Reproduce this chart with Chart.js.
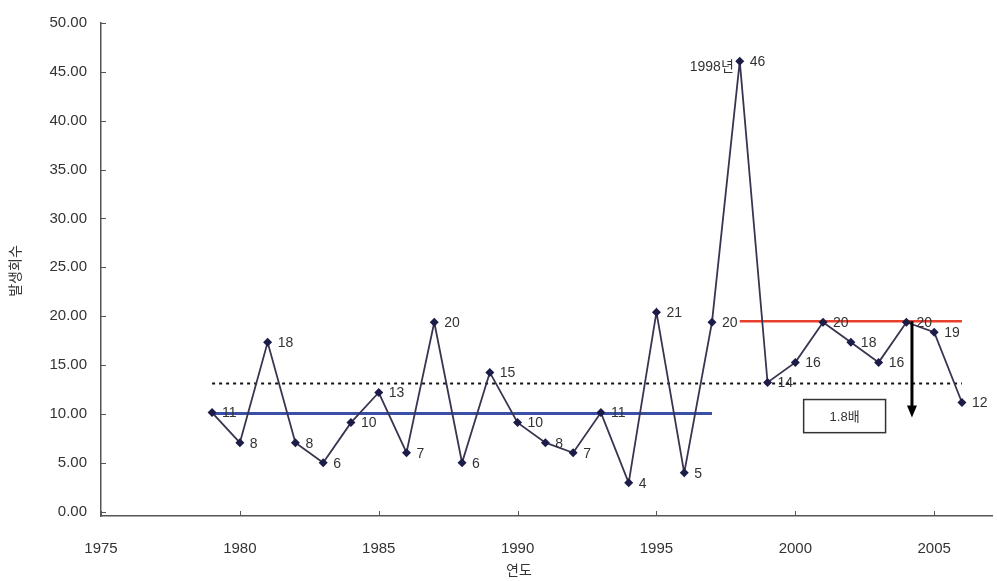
<!DOCTYPE html>
<html>
<head>
<meta charset="utf-8">
<script src="https://cdn.jsdelivr.net/npm/chart.js@4"></script>
<style>
  html, body { margin: 0; padding: 0; background: #fff; }
  #wrap { width: 997px; height: 581px; }
</style>
</head>
<body>
<div id="wrap"><canvas id="chart" width="997" height="581"></canvas></div>
<script>
// --- data ---
const years = [1979, 1980, 1981, 1982, 1983, 1984, 1985, 1986, 1987, 1988, 1989, 1990, 1991, 1992,
               1993, 1994, 1995, 1996, 1997, 1998, 1999, 2000, 2001, 2002, 2003, 2004, 2005, 2006];
const counts = [11, 8, 18, 8, 6, 10, 13, 7, 20, 6, 15, 10, 8, 7,
                11, 4, 21, 5, 20, 46, 14, 16, 20, 18, 16, 20, 19, 12];
const xTicks = [1975, 1980, 1985, 1990, 1995, 2000, 2005];
const yTicks = [0, 5, 10, 15, 20, 25, 30, 35, 40, 45, 50];

// reference lines: mean before / after 1998 and overall mean
const periodBefore = [1979, 1997];
const periodAfter = [1998, 2006];
const periodAll = [1979, 2006];
const meanBefore = 10.9;
const meanAfter = 20.1;
const meanAll = 13.9;

const peakYear = 1998;
const peakNote = '1998년';
const ratioText = '1.8배';

const FONT = "'Liberation Sans', 'Noto Sans CJK KR', sans-serif";
const TEXT = '#333';
const AXIS = '#555';

const hline = (range, v) => range.map(x => ({ x: x, y: v }));

/* annotation + label layer */
const decor = {
    id: 'decor',
    afterDatasetsDraw(chart) {
        const ctx = chart.ctx;
        const xs = chart.scales.x, ys = chart.scales.y, yd = chart.scales.yData;
        const area = chart.chartArea;
        ctx.save();

        // inward tick marks
        ctx.strokeStyle = AXIS;
        ctx.lineWidth = 1;
        xTicks.forEach(v => {
            const px = Math.round(xs.getPixelForValue(v)) + 0.5;
            ctx.beginPath(); ctx.moveTo(px, area.bottom); ctx.lineTo(px, area.bottom - 5); ctx.stroke();
        });
        yTicks.forEach(v => {
            const py = Math.round(ys.getPixelForValue(v)) + 0.5;
            ctx.beginPath(); ctx.moveTo(area.left, py); ctx.lineTo(area.left + 5, py); ctx.stroke();
        });

        // value labels
        const meta = chart.getDatasetMeta(0);
        ctx.font = '14px ' + FONT;
        ctx.fillStyle = TEXT;
        ctx.textBaseline = 'middle';
        meta.data.forEach((pt, i) => {
            if (years[i] === peakYear) {
                ctx.textAlign = 'right';
                ctx.fillText(peakNote, pt.x - 6, pt.y + 6);
                ctx.textAlign = 'left';
                ctx.fillText(String(counts[i]), pt.x + 10, pt.y + 1);
            } else {
                ctx.textAlign = 'left';
                ctx.fillText(String(counts[i]), pt.x + 10, pt.y + 1);
            }
        });

        // arrow from the later mean down to the earlier mean
        const ax = xs.getPixelForValue(2004.2);
        const aTop = yd.getPixelForValue(meanAfter);
        const aTip = yd.getPixelForValue(meanBefore) + 4;
        ctx.strokeStyle = '#000';
        ctx.fillStyle = '#000';
        ctx.lineWidth = 3;
        ctx.beginPath(); ctx.moveTo(ax, aTop); ctx.lineTo(ax, aTip - 10); ctx.stroke();
        ctx.beginPath();
        ctx.moveTo(ax - 5, aTip - 12); ctx.lineTo(ax + 5, aTip - 12); ctx.lineTo(ax, aTip);
        ctx.closePath(); ctx.fill();

        // ratio box
        const bx0 = xs.getPixelForValue(2000.3), bx1 = xs.getPixelForValue(2003.25);
        const by0 = yd.getPixelForValue(12.3), by1 = yd.getPixelForValue(9.0);
        ctx.fillStyle = '#fff';
        ctx.fillRect(bx0, by0, bx1 - bx0, by1 - by0);
        ctx.strokeStyle = '#333';
        ctx.lineWidth = 1.5;
        ctx.strokeRect(bx0, by0, bx1 - bx0, by1 - by0);
        ctx.fillStyle = TEXT;
        ctx.font = '13px ' + FONT;
        ctx.textAlign = 'center';
        ctx.fillText(ratioText, (bx0 + bx1) / 2, (by0 + by1) / 2 + 1);

        // axis titles
        ctx.font = '14px ' + FONT;
        ctx.fillStyle = TEXT;
        ctx.textAlign = 'center';
        ctx.fillText('연도', 519, 571);
        ctx.translate(16, 271);
        ctx.rotate(-Math.PI / 2);
        ctx.fillText('발생회수', 0, 0);

        ctx.restore();
    }
};

new Chart(document.getElementById('chart'), {
    type: 'line',
    data: {
        datasets: [
            {
                label: '발생회수',
                data: years.map((y, i) => ({ x: y, y: counts[i] })),
                yAxisID: 'yData',
                borderColor: '#3b3450',
                borderWidth: 1.8,
                pointStyle: 'rectRot',
                pointRadius: 4.5,
                pointBackgroundColor: '#1c1c48',
                pointBorderWidth: 0,
                tension: 0
            },
            {
                label: 'mean 1979-1997',
                data: hline(periodBefore, meanBefore),
                yAxisID: 'yData',
                borderColor: '#3c4fa6',
                borderWidth: 3,
                pointRadius: 0
            },
            {
                label: 'mean 1998-2006',
                data: hline(periodAfter, meanAfter),
                yAxisID: 'yData',
                borderColor: '#e8402c',
                borderWidth: 2.5,
                pointRadius: 0
            },
            {
                label: 'mean',
                data: hline(periodAll, meanAll),
                yAxisID: 'yData',
                borderColor: '#111',
                borderWidth: 2,
                borderDash: [3, 4],
                pointRadius: 0
            }
        ]
    },
    options: {
        responsive: false,
        animation: false,
        devicePixelRatio: 1,
        layout: { padding: { top: 20, right: 0, left: 0, bottom: 0 } },
        plugins: { legend: { display: false }, tooltip: { enabled: false } },
        scales: {
            x: {
                type: 'linear',
                min: 1975,
                max: 2007.1,
                afterBuildTicks: s => { s.ticks = xTicks.map(v => ({ value: v })); },
                afterFit: s => { s.height = 65; },
                grid: { display: false, drawTicks: false },
                border: { color: AXIS, width: 1.5 },
                ticks: { font: { family: FONT, size: 15 }, color: TEXT, padding: 24, maxRotation: 0,
                          callback: v => String(v) }
            },
            y: {
                type: 'linear',
                min: -0.45,
                max: 50,
                afterBuildTicks: s => { s.ticks = yTicks.map(v => ({ value: v })); },
                afterFit: s => { s.width = 101; },
                grid: { display: false, drawTicks: false },
                border: { color: AXIS, width: 1.5 },
                ticks: { font: { family: FONT, size: 15 }, color: TEXT, padding: 14,
                         callback: v => Number(v).toFixed(2) }
            },
            yData: {
                type: 'linear',
                display: false,
                min: 0.7,
                max: 49.8
            }
        }
    },
    plugins: [decor]
});
</script>
</body>
</html>
